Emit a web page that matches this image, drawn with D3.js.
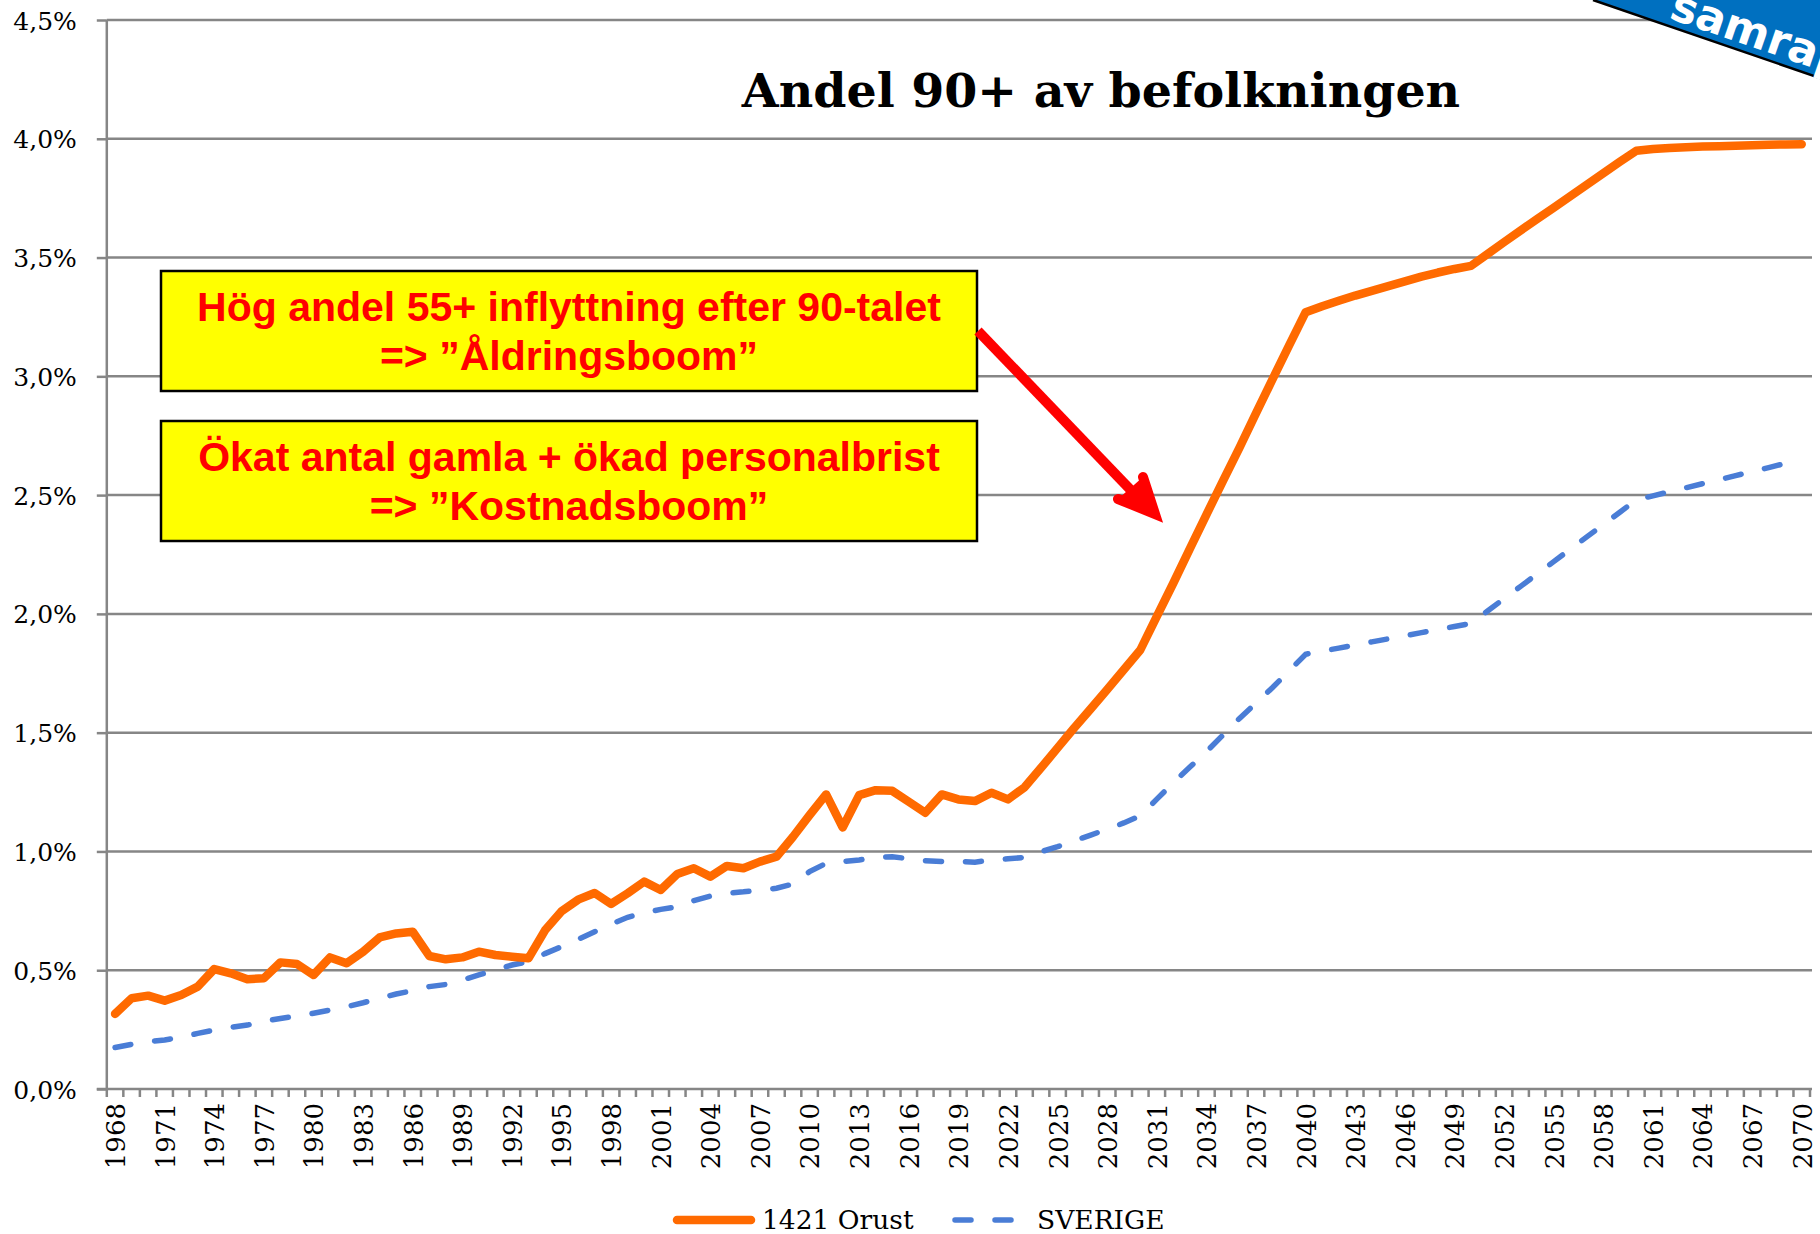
<!DOCTYPE html>
<html>
<head>
<meta charset="utf-8">
<script src="https://cdn.jsdelivr.net/npm/d3@7"></script>
<style>
  body { margin: 0; background: #fff; }
  svg { display: block; }
</style>
</head>
<body>
<div id="chart"></div>
<script>
// kategorier: ett år per punkt
var years = d3.range(1968, 2071);
var tickYears = [1968, 1971, 1974, 1977, 1980, 1983, 1986, 1989, 1992, 1995, 1998, 2001, 2004, 2007,
  2010, 2013, 2016, 2019, 2022, 2025, 2028, 2031, 2034, 2037, 2040, 2043, 2046, 2049, 2052, 2055,
  2058, 2061, 2064, 2067, 2070];
var yTicks = [0, 0.5, 1, 1.5, 2, 2.5, 3, 3.5, 4, 4.5];

// andel 90+ i procent
var orust = [
  0.316, 0.382, 0.393, 0.372, 0.396, 0.431, 0.505, 0.487, 0.462, 0.466,
  0.533, 0.526, 0.480, 0.554, 0.529, 0.578, 0.638, 0.655, 0.662, 0.560,
  0.546, 0.554, 0.578, 0.564, 0.557, 0.550, 0.668, 0.748, 0.797, 0.825,
  0.779, 0.824, 0.873, 0.838, 0.905, 0.929, 0.894, 0.939, 0.929, 0.957,
  0.978, 1.062, 1.153, 1.240, 1.101, 1.237, 1.258, 1.255, 1.209, 1.163,
  1.240, 1.219, 1.212, 1.247, 1.219, 1.270, 1.352, 1.436, 1.520, 1.600,
  1.682, 1.765, 1.848, 1.990, 2.130, 2.275, 2.418, 2.560, 2.700, 2.845,
  2.988, 3.130, 3.270, 3.295, 3.318, 3.340, 3.360, 3.380, 3.400, 3.420,
  3.437, 3.452, 3.465, 3.515, 3.565, 3.614, 3.662, 3.710, 3.758, 3.806,
  3.855, 3.903, 3.950, 3.957, 3.961, 3.964, 3.967, 3.969, 3.971, 3.973,
  3.975, 3.976, 3.977
];
var sverige = [
  0.175, 0.188, 0.199, 0.206, 0.218, 0.234, 0.248, 0.260, 0.269, 0.286,
  0.297, 0.307, 0.319, 0.332, 0.346, 0.363, 0.382, 0.400, 0.414, 0.431,
  0.440, 0.459, 0.480, 0.501, 0.522, 0.536, 0.570, 0.599, 0.630, 0.662,
  0.694, 0.723, 0.742, 0.756, 0.767, 0.793, 0.812, 0.824, 0.830, 0.838,
  0.845, 0.863, 0.915, 0.950, 0.957, 0.964, 0.975, 0.978, 0.969, 0.961,
  0.958, 0.958, 0.955, 0.964, 0.969, 0.975, 0.999, 1.020, 1.045, 1.069,
  1.094, 1.120, 1.150, 1.220, 1.290, 1.355, 1.420, 1.490, 1.560, 1.625,
  1.690, 1.760, 1.830, 1.843, 1.856, 1.869, 1.882, 1.895, 1.908, 1.921,
  1.934, 1.947, 1.960, 2.012, 2.064, 2.116, 2.168, 2.220, 2.272, 2.324,
  2.376, 2.428, 2.480, 2.497, 2.514, 2.531, 2.548, 2.565, 2.582, 2.599,
  2.616, 2.633, 2.650
];
var seriesNames = ["1421 Orust", "SVERIGE"];
var boxLines = [
  ["Hög andel 55+ inflyttning efter 90-talet", "=> ”Åldringsboom”"],
  ["Ökat antal gamla + ökad personalbrist", "=> ”Kostnadsboom”"]
];

var W = 1820, H = 1234;
var plotL = 106.8, plotR = 1810, plotT = 20, plotB = 1089;
var gridCol = "#868686", orange = "#ff6a00", blue = "#4a7dd6";
var serif = "'DejaVu Serif', serif";

var svg = d3.select("#chart").append("svg")
  .attr("width", W).attr("height", H)
  .style("background", "#fff");

var x = d3.scaleBand().domain(years).range([plotL, plotR]).padding(0);
var y = d3.scaleLinear().domain([0, 4.5]).range([plotB, plotT]);
var cx = function(yr) { return x(yr) + x.bandwidth() / 2; };

var sv = d3.formatLocale({decimal: ",", thousands: " ", grouping: [3], currency: ["", " kr"]});
var pct = function(d) { return sv.format(".1f")(d) + "%"; };

// gridlines
svg.append("g").selectAll("line")
  .data(yTicks.filter(function(d) { return d > 0; }))
  .enter().append("line")
  .attr("x1", plotL).attr("x2", plotR + 2)
  .attr("y1", function(d) { return y(d); }).attr("y2", function(d) { return y(d); })
  .style("stroke", gridCol).style("stroke-width", 2.5);

// y-axel
var yAxis = svg.append("g")
  .attr("transform", "translate(" + plotL + ",0)")
  .call(d3.axisLeft(y).tickValues(yTicks).tickSize(10).tickPadding(20).tickFormat(pct));
yAxis.selectAll("line").style("stroke", gridCol).style("stroke-width", 2.5);
yAxis.select(".domain").style("stroke", gridCol).style("stroke-width", 2.5)
  .attr("d", "M0," + plotT + "V" + plotB);
yAxis.selectAll("text").style("font-family", serif).style("font-size", "25px")
  .style("fill", "#000").attr("dy", "0.36em");

// x-axel
var xAxis = svg.append("g")
  .attr("transform", "translate(0," + plotB + ")")
  .call(d3.axisBottom(x).tickValues(tickYears).tickSize(0).tickPadding(0));
xAxis.select(".domain").style("stroke", gridCol).style("stroke-width", 2.5)
  .attr("d", "M" + (plotL - 10) + ",0H" + (plotR + 2));
xAxis.selectAll("text")
  .attr("transform", "rotate(-90)")
  .attr("x", -14).attr("y", 0).attr("dy", "0.38em")
  .style("text-anchor", "end")
  .style("font-family", serif).style("font-size", "26px").style("fill", "#000");

// små streck mellan kategorierna
svg.append("g").selectAll("line")
  .data(years.concat([null]))
  .enter().append("line")
  .attr("x1", function(d) { return d === null ? plotR : x(d); })
  .attr("x2", function(d) { return d === null ? plotR : x(d); })
  .attr("y1", plotB).attr("y2", plotB + 8)
  .style("stroke", gridCol).style("stroke-width", 2.5);

// linjer
var line = d3.line()
  .x(function(d, i) { return cx(years[i]); })
  .y(function(d) { return y(d); });

svg.append("path").datum(sverige)
  .attr("d", line)
  .style("fill", "none").style("stroke", blue).style("stroke-width", 5.5)
  .style("stroke-dasharray", "16,24").style("stroke-linecap", "round");

svg.append("path").datum(orust)
  .attr("d", line)
  .style("fill", "none").style("stroke", orange).style("stroke-width", 8.5)
  .style("stroke-linejoin", "round").style("stroke-linecap", "round");

// titel
svg.append("text")
  .attr("x", 1101).attr("y", 107)
  .attr("text-anchor", "middle")
  .style("font-family", serif).style("font-weight", "bold").style("font-size", "47.5px")
  .text("Andel 90+ av befolkningen");

// gula rutor
var boxTop = [271, 421];
boxLines.forEach(function(lines, k) {
  svg.append("rect")
    .attr("x", 161).attr("y", boxTop[k]).attr("width", 816).attr("height", 120)
    .style("fill", "#ffff00").style("stroke", "#000").style("stroke-width", 2.5);
  lines.forEach(function(t, j) {
    svg.append("text")
      .attr("x", 569).attr("y", boxTop[k] + 50 + j * 49)
      .attr("text-anchor", "middle")
      .style("font-family", "'Liberation Sans', Arial, sans-serif")
      .style("font-weight", "bold").style("font-size", "41px").style("fill", "#ff0000")
      .text(t);
  });
});

// pil
svg.append("line")
  .attr("x1", 978).attr("y1", 331).attr("x2", 1148).attr("y2", 508)
  .style("stroke", "#ff0000").style("stroke-width", 10);
svg.append("path")
  .attr("d", "M1143,477L1155,514L1118,499")
  .style("fill", "#ff0000").style("stroke", "#ff0000").style("stroke-width", 10)
  .style("stroke-linecap", "round").style("stroke-linejoin", "miter");

// legend
var lg = svg.append("g");
lg.append("line").attr("x1", 677).attr("x2", 751).attr("y1", 1220).attr("y2", 1220)
  .style("stroke", orange).style("stroke-width", 8.5).style("stroke-linecap", "round");
lg.append("line").attr("x1", 955).attr("x2", 1011).attr("y1", 1220).attr("y2", 1220)
  .style("stroke", blue).style("stroke-width", 5.5).style("stroke-linecap", "round")
  .style("stroke-dasharray", "16,24");
lg.selectAll("text").data(seriesNames).enter().append("text")
  .attr("x", function(d, i) { return i === 0 ? 762 : 1037; })
  .attr("y", 1229)
  .style("font-family", serif).style("font-size", "26.5px")
  .text(function(d) { return d; });

// blått band i hörnet
svg.append("path")
  .attr("d", "M1593,0L1820,78L1820,0Z")
  .style("fill", "#0070c0");
svg.append("line")
  .attr("x1", 1593).attr("y1", 0).attr("x2", 1820).attr("y2", 78)
  .style("stroke", "#000").style("stroke-width", 2.5);
svg.append("text")
  .attr("transform", "translate(1668,18) rotate(19)")
  .style("font-family", "'DejaVu Sans', sans-serif").style("font-weight", "bold")
  .style("font-size", "44px").style("fill", "#fff")
  .text("samrap");
</script>
</body>
</html>
